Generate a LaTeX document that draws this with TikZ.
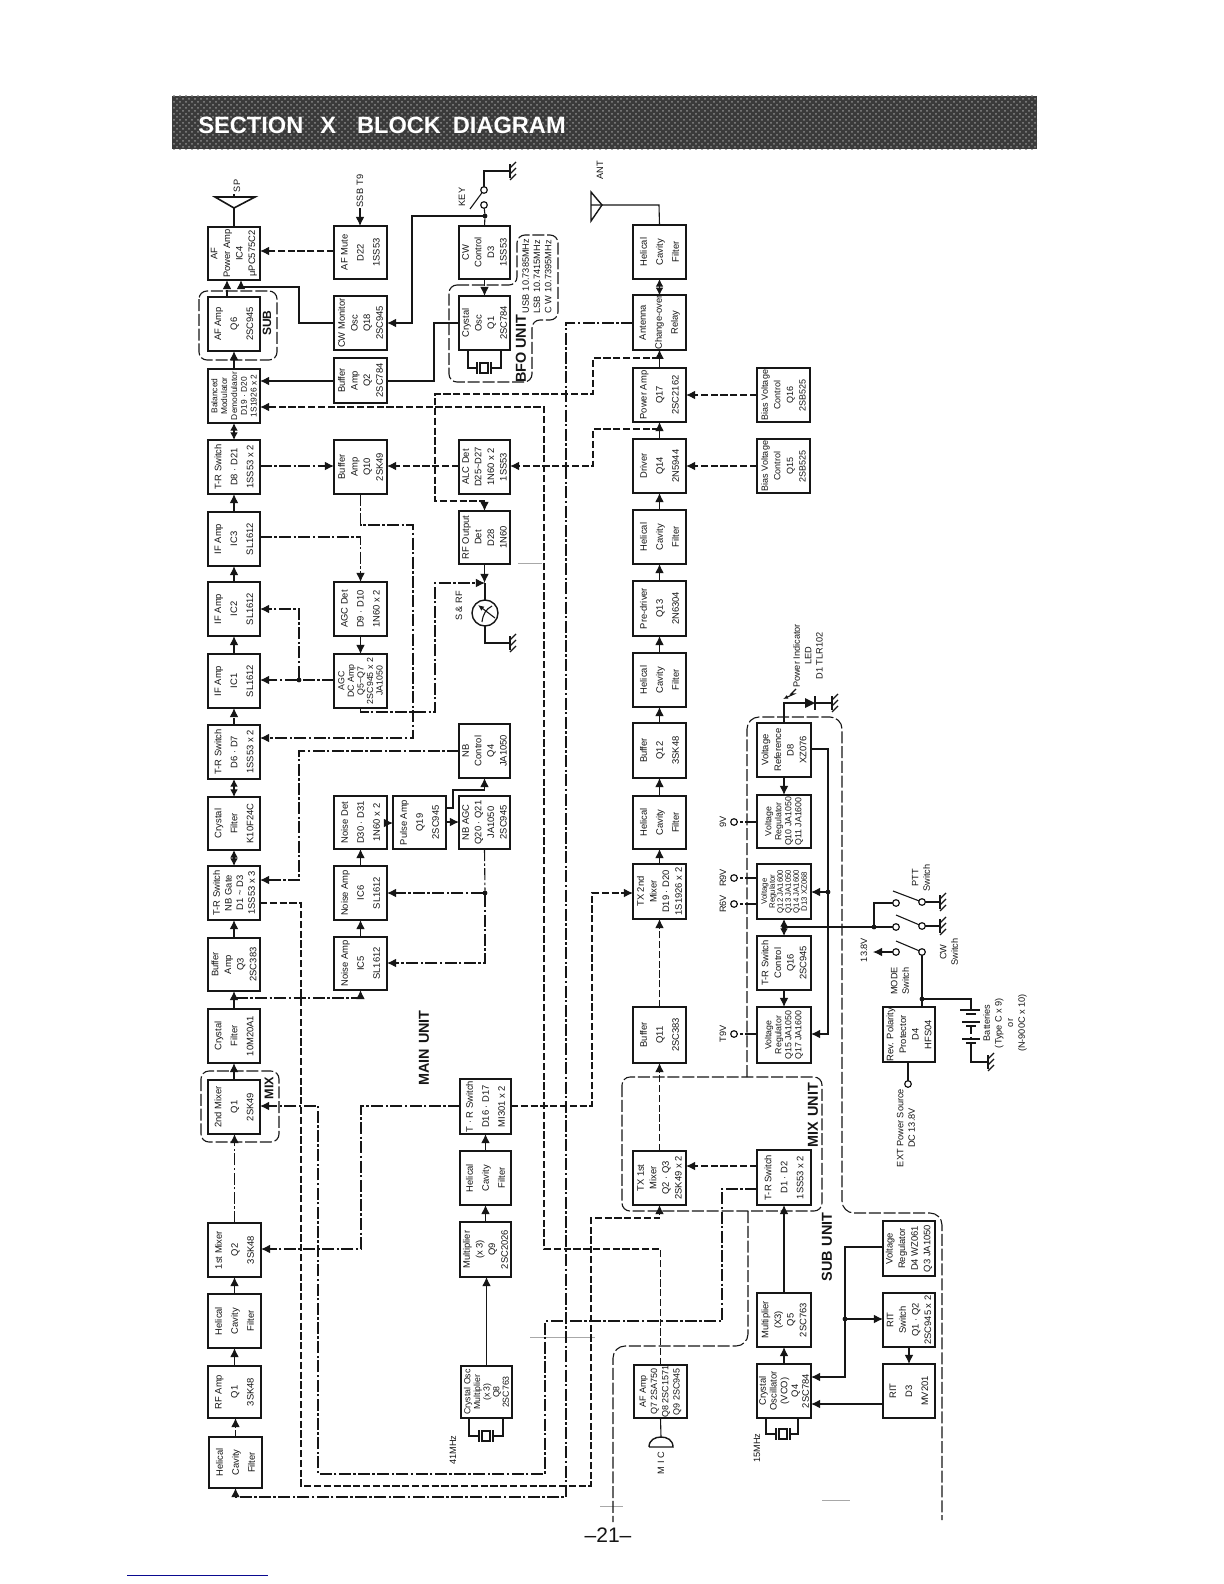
\documentclass[tikz,border=0pt]{standalone}
\usepackage{fontspec}
\setmainfont{Liberation Sans}
\usetikzlibrary{arrows.meta,patterns}
\definecolor{bandc}{HTML}{3A3A3A}
\definecolor{bandd}{HTML}{8A8A8A}
\definecolor{inkc}{HTML}{161616}
\definecolor{faintc}{HTML}{A8A8A8}
\definecolor{bluec}{HTML}{0A0A90}
\tikzset{
  x=0.5pt,y=-0.5pt,
  >={Latex[length=4.6pt,width=4.4pt]},
  boxs/.style={draw=inkc,fill=white,line width=0.95pt,rotate=90,inner sep=0pt,outer sep=0pt,align=center,text=inkc},
  lbl/.style={rotate=90,inner sep=0pt,align=center,text=inkc,font=\fontsize{4.6}{5.8}\selectfont},
  unitlbl/.style={rotate=90,inner sep=0pt,align=center,text=inkc,font=\fontsize{7.2}{8}\selectfont\bfseries},
  sol/.style={draw=inkc,line width=0.55pt},
  dsh/.style={draw=inkc,line width=0.55pt,dash pattern=on 3.6pt off 1.3pt},
  dd/.style={draw=inkc,line width=0.55pt,dash pattern=on 6pt off 1.2pt on 1.2pt off 1.2pt},
  ub/.style={draw=inkc,line width=0.55pt,dash pattern=on 6pt off 1.4pt,rounded corners=4pt},
  term/.style={circle,draw=inkc,fill=white,line width=0.6pt,minimum size=3.3pt,inner sep=0pt,outer sep=0pt},
  jn/.style={circle,fill=inkc,minimum size=2.4pt,inner sep=0pt,outer sep=0pt},
  faint/.style={draw=faintc,line width=0.3pt}
}
\newcommand\blksz{4.7}
\newcommand\blk[7]{\node[boxs,minimum width={(#5-#3)*0.5pt},minimum height={(#4-#2)*0.5pt},font=\fontsize{\blksz}{#6}\selectfont] (#1) at ({(#2+#4)/2},{(#3+#5)/2}) {#7};}
\newcommand\cUp[3]{\draw[#1,->] (#2.east) -- (#2.east |- #3.west);}
\newcommand\cUpB[3]{\draw[#1,>={Latex[length=3.8pt,width=3.8pt]},<->] (#2.east) -- (#2.east |- #3.west);}
\newcommand\cDn[3]{\draw[#1,->] (#2.west) -- (#2.west |- #3.east);}
\newcommand\cLt[4]{\draw[#1,->] (#2.north |- 0,#4) -- (#3.south |- 0,#4);}
\newcommand\cRt[4]{\draw[#1,->] (#2.south |- 0,#4) -- (#3.north |- 0,#4);}
\newcommand\gndsym[3]{\coordinate (#1) at (#2,#3);
  \draw[sol] ({#2},{#3-7}) -- ({#2},{#3+7});
  \foreach \gi in {-6,0,6} {\draw[sol] ({#2},{#3+\gi+3}) -- ({#2+6},{#3+\gi-3});}}
\newcommand\xtal[5]{%
  \draw[sol] (#2,#4) -- (#2,#5) -- ({#1-7},#5);
  \draw[sol] (#3,#4) -- (#3,#5) -- ({#1+7},#5);
  \draw[sol,line width=0.8pt] ({#1-7},{#5-6}) -- ({#1-7},{#5+6});
  \draw[sol,line width=0.8pt] ({#1+7},{#5-6}) -- ({#1+7},{#5+6});
  \draw[sol] ({#1-4},{#5-5}) rectangle ({#1+4},{#5+5});}
\begin{document}
\begin{tikzpicture}
\useasboundingbox[fill=white] (0,0) rectangle (1224,1584);
% header band
\fill[bandc] (172,96) rectangle (1037,149);
\fill[pattern=crosshatch dots,pattern color=bandd] (172,96) rectangle (1037,149);
\node[text=white,inner sep=0pt,anchor=west,font=\fontsize{11.8}{14}\selectfont\bfseries] (title) at (198,125) {SECTION\hspace{8.5pt}X\hspace{10.5pt}BLOCK\hspace{6pt}DIAGRAM};
% faint marks
\draw[faint] (518,563) -- (542,563);
\draw[faint] (530,1337) -- (595,1337);
\draw[faint] (600,1506) -- (623,1506);
\draw[faint] (822,1500) -- (850,1500);
\draw[draw=bluec,line width=0.5pt] (127,1575) -- (268,1575);
% column A
\blk{afp}{208}{227}{260}{280}{6.3}{AF\\Power Amp\\IC4\\μPC575C2}
\blk{afq}{208}{297}{260}{351}{8}{AF Amp\\Q6\\2SC945}
\renewcommand\blksz{4.2}
\blk{bal}{208}{369}{260}{423}{4.9}{Balanced\\Modulator\\Demodulator\\D19 · D20\\1S1926 x 2}
\renewcommand\blksz{4.7}
\blk{trd}{208}{440}{260}{494}{8}{T-R Switch\\D8 · D21\\1SS53 x 2}
\blk{if3}{208}{512}{260}{566}{8}{IF Amp\\IC3\\SL1612}
\blk{if2}{208}{582}{260}{636}{8}{IF Amp\\IC2\\SL1612}
\blk{if1}{208}{654}{260}{708}{8}{IF Amp\\IC1\\SL1612}
\blk{trs}{208}{725}{260}{779}{8}{T-R Switch\\D6 · D7\\1SS53 x 2}
\blk{xf}{208}{797}{260}{850}{8}{Crystal\\Filter\\K10F24C}
\blk{trn}{208}{866}{260}{920}{5.8}{T-R Switch\\NB Gate\\D1 \textasciitilde{} D3\\1SS53 x 3}
\blk{buq}{208}{938}{260}{991}{6.3}{Buffer\\Amp\\Q3\\2SC383}
\blk{xm}{208}{1009}{260}{1063}{8}{Crystal\\Filter\\10M20A1}
\blk{mx}{208}{1080}{260}{1134}{8}{2nd Mixer\\Q1\\2SK49}
\blk{mf}{208}{1223}{261}{1277}{8}{1st Mixer\\Q2\\3SK48}
\blk{hc}{208}{1294}{261}{1348}{8}{Helical\\Cavity\\Filter}
\blk{rf}{208}{1366}{261}{1418}{8}{RF Amp\\Q1\\3SK48}
\blk{hd}{209}{1437}{262}{1488}{8}{Helical\\Cavity\\Filter}
% column B
\blk{mute}{334}{226}{387}{279}{8}{AF Mute\\D22\\1SS53}
\blk{cwm}{334}{296}{387}{350}{6.3}{CW Monitor\\Osc\\Q18\\2SC945}
\blk{bq2}{334}{358}{387}{403}{6.3}{Buffer\\Amp\\Q2\\2SC784}
\blk{bq10}{334}{440}{387}{494}{6.3}{Buffer\\Amp\\Q10\\2SK49}
\blk{agc}{334}{582}{387}{636}{8}{AGC Det\\D9 · D10\\1N60 x 2}
\renewcommand\blksz{4.4}
\blk{agd}{334}{654}{387}{708}{4.8}{AGC\\DC Amp\\Q5\textasciitilde Q7\\2SC945 x 2\\JA1050}
\renewcommand\blksz{4.7}
\blk{nd}{334}{796}{387}{849}{8}{Noise Det\\D30 · D31\\1N60 x 2}
\blk{na6}{334}{866}{387}{920}{8}{Noise Amp\\IC6\\SL1612}
\blk{na5}{334}{937}{387}{990}{8}{Noise Amp\\IC5\\SL1612}
\blk{pa}{393}{796}{446}{849}{8}{Pulse Amp\\Q19\\2SC945}
% column C
\blk{cw}{459}{226}{510}{279}{6.3}{CW\\Control\\D3\\1SS53}
\blk{xo}{459}{296}{510}{350}{6.3}{Crystal\\Osc\\Q1\\2SC784}
\blk{alc}{459}{440}{510}{494}{6.3}{ALC Det\\D25\textasciitilde D27\\1N60 x 2\\1SS53}
\blk{rfo}{459}{511}{510}{564}{6.3}{RF Output\\Det\\D28\\1N60}
\blk{nbc}{459}{724}{510}{778}{6.3}{NB\\Control\\Q4\\JA1050}
\blk{nba}{459}{796}{510}{849}{6.3}{NB AGC\\Q20 · Q21\\JA1050\\2SC945}
\blk{trm}{460}{1079}{511}{1134}{8}{T · R Switch\\D16 · D17\\MI301 x 2}
\blk{hm}{460}{1151}{511}{1205}{8}{Helical\\Cavity\\Filter}
\blk{mq9}{460}{1222}{511}{1277}{6.3}{Multiplier\\(x 3)\\Q9\\2SC2026}
\renewcommand\blksz{4.4}
\blk{xq8}{461}{1366}{512}{1418}{4.8}{Crystal Osc\\Multiplier\\(x 3)\\Q8\\2SC763}
\renewcommand\blksz{4.7}
% column D
\blk{hta}{633}{225}{686}{279}{8}{Helical\\Cavity\\Filter}
\blk{ant}{633}{296}{686}{349}{8}{Antenna\\Change-over\\Relay}
\blk{pwr}{633}{368}{686}{422}{8}{Power Amp\\Q17\\2SC2162}
\blk{drv}{633}{439}{686}{493}{8}{Driver\\Q14\\2N5944}
\blk{htb}{633}{510}{686}{564}{8}{Helical\\Cavity\\Filter}
\blk{prd}{633}{581}{686}{636}{8}{Pre-driver\\Q13\\2N6304}
\blk{htc}{633}{653}{686}{707}{8}{Helical\\Cavity\\Filter}
\blk{q12}{633}{723}{686}{778}{8}{Buffer\\Q12\\3SK48}
\blk{htd}{633}{796}{686}{849}{8}{Helical\\Cavity\\Filter}
\blk{tx2}{633}{864}{686}{919}{6.3}{TX 2nd\\Mixer\\D19 · D20\\1S1926 x 2}
\blk{q11}{633}{1007}{686}{1063}{8}{Buffer\\Q11\\2SC383}
\blk{tx1}{633}{1151}{686}{1205}{6.3}{TX 1st\\Mixer\\Q2 · Q3\\2SK49 x 2}
\renewcommand\blksz{4.5}
\blk{afa}{634}{1365}{687}{1418}{5.6}{AF Amp\\Q7 2SA750\\Q8 2SC1571\\Q9 2SC945}
% column E
\blk{bq16}{757}{368}{810}{422}{6.3}{Bias Voltage\\Control\\Q16\\2SB525}
\blk{bq15}{757}{439}{810}{493}{6.3}{Bias Voltage\\Control\\Q15\\2SB525}
\renewcommand\blksz{4.7}
\blk{vref}{757}{723}{811}{777}{6.3}{Voltage\\Reference\\D8\\XZ076}
\renewcommand\blksz{4.4}
\blk{vq10}{757}{795}{811}{848}{5}{Voltage\\Regulator\\Q10 JA1050\\Q11 JA1600}
\renewcommand\blksz{3.9}
\blk{vq12}{757}{864}{811}{919}{4}{Voltage\\Regulator\\Q12 JA1600\\Q13 JA1050\\Q14 JA1600\\D13 XZ068}
\renewcommand\blksz{4.7}
\blk{tq16}{757}{936}{811}{990}{6.3}{T-R Switch\\Control\\Q16\\2SC945}
\renewcommand\blksz{4.4}
\blk{vq15}{757}{1007}{811}{1063}{5}{Voltage\\Regulator\\Q15 JA1050\\Q17 JA1600}
\renewcommand\blksz{4.7}
\blk{trx}{757}{1150}{811}{1205}{8}{T-R Switch\\D1 · D2\\1SS53 x 2}
\blk{mq5}{757}{1293}{811}{1347}{6.3}{Multiplier\\(X3)\\Q5\\2SC763}
\blk{oq4}{757}{1364}{811}{1418}{5.4}{Crystal\\Oscillator\\(VCO)\\Q4\\2SC784}
% column F
\blk{rev}{883}{1007}{935}{1062}{6.3}{Rev. Polarity\\Protector\\D4\\HFS04}
\blk{vd4}{883}{1221}{935}{1276}{6.3}{Voltage\\Regulator\\D4 WZ061\\Q3 JA1050}
\blk{rsw}{883}{1293}{935}{1347}{6.3}{RIT\\Switch\\Q1 · Q2\\2SC945 x 2}
\blk{rd3}{883}{1364}{935}{1418}{8}{RIT\\D3\\MV201}
% unit outlines
\draw[ub] (199,291) rectangle (277,360);
\draw[ub] (201,1071) rectangle (279,1142);
\draw[ub] (449,285) -- (517,285) -- (517,235) -- (558,235) -- (558,320) -- (532,320) -- (532,382) -- (449,382) -- cycle;
\draw[ub] (622,1077) rectangle (822,1211);
\draw[ub,rounded corners=6pt] (747,1077) -- (747,717) -- (842,717) -- (842,1213) -- (942,1213) -- (942,1520);
\draw[ub,rounded corners=6pt] (748,1211) -- (748,1346) -- (613,1346) -- (613,1522);
% unit labels
\node[unitlbl,font=\fontsize{6}{7}\selectfont\bfseries] (lsub) at (267,323) {SUB};
\node[unitlbl,font=\fontsize{6.3}{7}\selectfont\bfseries] (lmix) at (269,1088) {MIX};
\node[unitlbl] (lbfo) at (521,349) {BFO UNIT};
\node[unitlbl] (lmain) at (424,1048) {MAIN\hspace{0.35em}UNIT};
\node[unitlbl] (lmixu) at (813,1115) {MIX\hspace{0.35em}UNIT};
\node[unitlbl] (lsubu) at (827,1247) {SUB\hspace{0.35em}UNIT};
% column A chain
\coordinate (afqt) at (227,297);
\draw[dsh,->] (afqt) -- (afqt |- afp.west);
\cUp{sol}{bal}{afq}
\cUpB{sol}{trd}{bal}
\cUp{sol}{if3}{trd}
\cUp{sol}{if2}{if3}
\cUp{sol}{if1}{if2}
\cUp{dsh}{trs}{if1}
\cUpB{sol}{xf}{trs}
\cUpB{sol}{trn}{xf}
\cUp{sol}{buq}{trn}
\cUp{dd}{xm}{buq}
\cUp{sol}{mx}{xm}
\cUp{dd}{mf}{mx}
\cUp{sol}{hc}{mf}
\cUp{sol}{rf}{hc}
\cUp{dsh}{hd}{rf}
% speaker
\coordinate (spk) at (234,208);
\draw[sol,line width=0.8pt] (215,197) -- (255,197) -- (spk) -- cycle;
\draw[sol] (afp.east) -- (spk);
\draw[sol] (234,197) -- (234,194);
\node[lbl] (lsp) at (237,186) {SP};
% column B / C links
\coordinate (ssb) at (360,208);
\draw[sol,->] (ssb) -- (ssb |- mute.east);
\node[lbl] (lssb) at (360,191) {SSB\hspace{0.35em}T9};
\cLt{dsh}{mute}{afp}{251}
\draw[sol,->] (cwm.north |- 0,323) -- (299,323) -- (299,287) -- (241,287) -- (241,280);
\cLt{sol}{bq2}{bal}{381}
\draw[sol] (xo.north |- 0,323) -- (434,323) -- (434,381) -- (bq2.south |- 0,381);
\cDn{dsh}{cw}{xo}
\node[jn] (jkey) at (485,216) {};
\draw[sol] (cw.east) -- (jkey);
\draw[sol,->] (jkey) -- (412,216) -- (412,323) -- (cwm.south |- 0,323);
\node[term] (k1) at (484,205) {};
\node[term] (k2) at (484,190) {};
\draw[sol] (jkey) -- (k1);
\draw[sol] (470,209) -- (k2);
\gndsym{gkey}{510}{171}
\draw[sol] (k2) -- (484,171) -- (gkey);
\node[lbl] (lkey) at (462,197) {KEY};
\xtal{484}{468}{501}{350}{368}
\node[lbl,anchor=west,align=left,font=\fontsize{4.6}{5.6}\selectfont] (lfreq) at (537,314) {USB\hspace{0.4em}10.7385MHz\\LSB\hspace{0.4em}10.7415MHz\\C W\hspace{0.35em}10.7395MHz};
\cRt{dd}{trd}{bq10}{466}
\cLt{dsh}{alc}{bq10}{466}
% T/R long lines
\draw[dsh,->] (drv.east |- 0,429) -- (593,429) -- (593,466) -- (alc.south |- 0,466);
\draw[dsh,->] (pwr.east |- 0,358) -- (593,358) -- (593,394) -- (435,394) -- (435,501) -- (rfo.east |- 0,501) -- (rfo.east);
\draw[dsh,->] (afa.east) -- (afa.east |- 0,1249) -- (544,1249) -- (544,407) -- (bal.south |- 0,407);
\draw[dd,->] (ant.north |- 0,323) -- (566,323) -- (566,1497) -- (hd.west |- 0,1497) -- (hd.west);
\draw[dd,->] (nbc.north |- 0,751) -- (299,751) -- (299,880) -- (trn.south |- 0,880);
\draw[dsh,->] (trn.south |- 0,903) -- (301,903) -- (301,1486) -- (591,1486) -- (591,1218) -- (tx1.west |- 0,1218) -- (tx1.west);
\draw[dd,->] (trx.north |- 0,1189) -- (722,1189) -- (722,1321) -- (545,1321) -- (545,1474) -- (318,1474) -- (318,1106) -- (mx.south |- 0,1106);
\draw[dd,->] (trm.north |- 0,1106) -- (361,1106) -- (361,1249) -- (mf.south |- 0,1249);
\draw[dsh,->] (trm.south |- 0,1106) -- (592,1106) -- (592,893) -- (tx2.north |- 0,893);
% AGC
\draw[dd,->] (if3.south |- 0,537) -- (agc.east |- 0,537) -- (agc.east);
\cDn{dd}{agc}{agd}
\node[jn] (jagc) at (299,680) {};
\draw[dd] (agd.north |- 0,680) -- (jagc);
\draw[dd,->] (jagc) -- (if1.south |- 0,680);
\draw[dd,->] (jagc) -- (299,609) -- (if2.south |- 0,609);
\coordinate (mtop) at (485,583);
\draw[dd,->] (agd.west) -- (agd.west |- 0,712) -- (435,712) -- (435,583) -- (mtop);
\draw[sol,->] (rfo.west) -- (rfo.west |- mtop);
\draw[dd,->] (bq10.west) -- (bq10.west |- 0,525) -- (413,525) -- (413,738) -- (trs.south |- 0,738);
% meter
\node[circle,draw=inkc,line width=0.7pt,minimum size=13pt,inner sep=0pt,outer sep=0pt] (meter) at (485,613) {};
\draw[sol] (mtop) -- (meter.north);
\gndsym{gmet}{510}{643}
\draw[sol] (meter.south) -- (485,643) -- (gmet);
\draw[sol,-{Latex[length=3pt,width=2.6pt]}] (495,618) -- (478,605);
\draw[sol] (482,622) .. controls (483,614) and (486,609) .. (492,606);
\node[lbl] (lsrf) at (459,606) {S \& RF};
% noise
\cUp{sol}{na5}{na6}
\cUp{sol}{na6}{nd}
\cRt{sol}{nd}{pa}{823}
\cRt{sol}{pa}{nba}{822}
\draw[sol,->] (pa.south |- 0,808) -- (453,808) -- (453,790) -- (nbc.west |- 0,790) -- (nbc.west);
\node[jn] (jnb) at (485,893) {};
\draw[dd] (nba.west) -- (jnb);
\draw[dd,->] (jnb) -- (485,963) -- (na5.south |- 0,963);
\draw[dd,->] (jnb) -- (na6.south |- 0,893);
\coordinate (xmb) at (236,998);
\draw[dd,->] (xmb) -- (na5.west |- xmb) -- (na5.west);
% main col C chain
\cUp{sol}{xq8}{mq9}
\cUp{sol}{mq9}{hm}
\cUp{sol}{hm}{trm}
\xtal{486}{469}{503}{1418}{1436}
\node[lbl] (l41) at (453,1450) {41MHz};
% TX chain
\coordinate (antap) at (602,205);
\draw[sol,line width=0.7pt] (591,192) -- (antap) -- (591,221) -- cycle;
\draw[sol] (591,205) -- (659,205) -- (hta.east);
\node[lbl] (lant) at (600,170) {ANT};
\cUpB{sol}{ant}{hta}
\cUp{sol}{pwr}{ant}
\cUp{sol}{drv}{pwr}
\cUp{sol}{htb}{drv}
\cUp{sol}{prd}{htb}
\cUp{sol}{htc}{prd}
\cUp{sol}{q12}{htc}
\cUp{sol}{htd}{q12}
\cUp{sol}{tx2}{htd}
\cUp{dsh}{q11}{tx2}
\cUp{dsh}{tx1}{q11}
\cLt{dsh}{trx}{tx1}{1166}
\cLt{dsh}{bq16}{pwr}{395}
\cLt{dsh}{bq15}{drv}{466}
\cUp{sol}{mq5}{trx}
\cUp{sol}{oq4}{mq5}
\xtal{783}{766}{798}{1418}{1434}
\node[lbl] (l15) at (757,1448) {15MHz};
% mic
\coordinate (mict) at (661,1437);
\draw[sol] (afa.west) -- (mict);
\draw[sol,line width=0.7pt] (649,1447) -- (673,1447) .. controls (673,1440) and (667,1437) .. (mict) .. controls (655,1437) and (649,1440) .. (649,1447);
\node[lbl] (lmic) at (661,1463) {M I C};
% sub unit
\node[jn] (jrit) at (845,1319) {};
\draw[sol] (vd4.north |- 0,1247) -- (845,1247) -- (jrit);
\draw[sol,->] (jrit) -- (rsw.north |- 0,1319);
\draw[sol,->] (jrit) -- (845,1377) -- (oq4.south |- 0,1377);
\cDn{sol}{rsw}{rd3}
\cLt{sol}{rd3}{oq4}{1404}
% power: LED
\coordinate (leda) at (805,703);
\coordinate (ledk) at (815,703);
\gndsym{gled}{832}{703}
\draw[sol] (vref.east) -- (vref.east |- leda) -- (leda);
\fill[inkc] (805,698) -- (815,703) -- (805,708) -- cycle;
\draw[sol,line width=0.8pt] (815,696) -- (815,710);
\draw[sol] (ledk) -- (gled);
\draw[sol,->,>={Latex[length=2.5pt,width=2pt]}] (796,689) -- (791,694) -- (794,694) -- (783,699);
\node[lbl,font=\fontsize{4.6}{5.7}\selectfont] (lled) at (808,656) {Power Indicator\\LED\\D1 TLR102};
\cDn{sol}{vref}{vq10}
\node[jn] (jreg) at (828,892) {};
\draw[sol] (vref.south |- 0,749) -- (828,749) -- (jreg);
\draw[sol,->] (jreg) -- (vq12.south |- 0,892);
\draw[sol,->] (jreg) -- (828,1034) -- (vq15.south |- 0,1034);
% terminals
\node[term] (t9) at (734,822) {};
\draw[dd] (vq10.north |- 0,822) -- (t9);
\node[lbl] (l9) at (723,822) {9V};
\node[term] (tr9) at (734,878) {};
\draw[dd] (vq12.north |- 0,878) -- (tr9);
\node[lbl] (lr9) at (723,878) {R9V};
\node[term] (tr6) at (734,904) {};
\draw[dd] (vq12.north |- 0,904) -- (tr6);
\node[lbl] (lr6) at (723,904) {R6V};
\node[term] (tt9) at (734,1034) {};
\draw[dd] (vq15.north |- 0,1034) -- (tt9);
\node[lbl] (lt9) at (723,1034) {T9V};
\cUpB{sol}{tq16}{vq12}
\cDn{sol}{tq16}{vq15}
% switches
\node[jn] (jtx) at (784,927) {};
\node[jn] (jsw) at (874,927) {};
\node[term] (s1a) at (896,903) {};
\node[term] (s1b) at (922,902) {};
\node[term] (s2a) at (896,927) {};
\node[term] (s2b) at (922,926) {};
\node[term] (s3a) at (896,952) {};
\node[term] (s3b) at (922,952) {};
\draw[sol] (jtx) -- (jsw) -- (s2a);
\draw[sol] (jsw) -- (874,903) -- (s1a);
\draw[sol] (893,891) -- (s1b);
\draw[sol] (896,915) -- (s2b);
\draw[sol] (896,941) -- (s3b);
\gndsym{gs1}{940}{902}
\gndsym{gs2}{940}{926}
\draw[sol] (s1b) -- (gs1);
\draw[sol] (s2b) -- (gs2);
\coordinate (v138) at (873,952);
\draw[sol,->] (s3a) -- (v138);
\node[lbl] (l138) at (864,950) {13.8V};
\node[jn] (jbat) at (922,999) {};
\draw[sol,line width=0.8pt] (s3b) -- (jbat);
\draw[sol] (jbat) -- (jbat |- rev.east);
\gndsym{gbat}{988}{1062}
\draw[sol] (jbat) -- (971,999) -- (971,1010);
\draw[sol,line width=0.7pt] (960,1010) -- (980,1010);
\draw[sol,line width=1.4pt] (966,1014) -- (976,1014);
\draw[sol,line width=0.7pt] (962,1022) -- (980,1022);
\draw[sol,line width=1.4pt] (966,1026) -- (976,1026);
\draw[dsh] (971,1027) -- (971,1039);
\draw[sol,line width=0.7pt] (962,1039) -- (980,1039);
\draw[sol,line width=1.4pt] (966,1043) -- (976,1043);
\draw[sol] (971,1043) -- (971,1062) -- (gbat);
\node[term] (text) at (908,1084) {};
\draw[sol] (text |- rev.west) -- (text);
\node[lbl] (lmode) at (900,981) {MODE\\Switch};
\node[lbl] (lcw) at (949,952) {CW\\Switch};
\node[lbl] (lptt) at (921,878) {PTT\\Switch};
\node[lbl] (lbatt) at (1005,1023) {Batteries\\(Type C x 9)\\or\\(N-900C x 10)};
\node[lbl] (lext) at (906,1128) {EXT Power Source\\DC 13.8V};
% page number
\node[inner sep=0pt,text=inkc,font=\fontsize{10.5}{12}\selectfont] (pg) at (608,1535) {–21–};
\end{tikzpicture}
\end{document}
